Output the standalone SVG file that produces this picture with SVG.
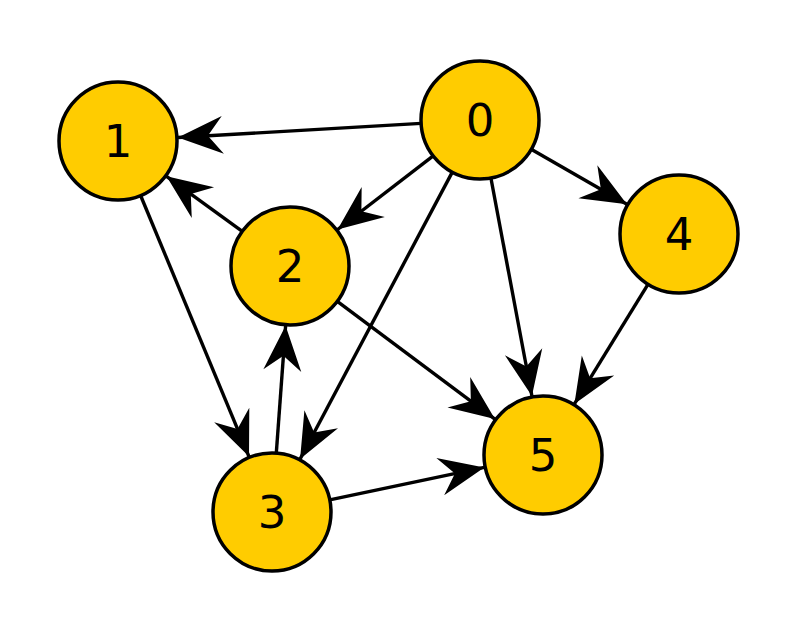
<svg xmlns="http://www.w3.org/2000/svg" width="800" height="631" viewBox="0 0 800 631">
<style>
.node circle{fill:#ffcc00;stroke:#000;stroke-width:3.5}
.node text{font-family:"DejaVu Sans",sans-serif;font-size:45px;text-anchor:middle;fill:#000}
.edges line{stroke:#000;stroke-width:3.4;marker-end:url(#arr)}
</style>
<defs>
<marker id="arr" markerUnits="userSpaceOnUse" viewBox="0 0 46 38" markerWidth="46" markerHeight="38" refX="45" refY="19" orient="auto" overflow="visible">
<path d="M45,19 L0,0 L15,19 L0,38 Z" fill="#000"/>
</marker>
</defs>
<rect width="800" height="631" fill="#fff"/>
<g id="edges" class="edges">
<line x1="421.1" y1="123.4" x2="177.9" y2="137.5"/>
<line x1="433.2" y1="155.9" x2="337.6" y2="229.5"/>
<line x1="452.3" y1="172.1" x2="300.1" y2="459.0"/>
<line x1="531.2" y1="149.3" x2="626.9" y2="204.2"/>
<line x1="490.9" y1="178.0" x2="531.9" y2="396.0"/>
<line x1="242.3" y1="231.3" x2="166.5" y2="176.3"/>
<line x1="140.6" y1="195.5" x2="249.0" y2="456.6"/>
<line x1="276.3" y1="453.2" x2="285.6" y2="325.8"/>
<line x1="337.3" y1="301.3" x2="494.9" y2="419.1"/>
<line x1="329.7" y1="499.9" x2="484.3" y2="467.4"/>
<line x1="648.1" y1="284.2" x2="574.4" y2="403.9"/>
</g>
<g id="node0" class="node"><circle cx="480" cy="120" r="59"/><text x="480" y="135.5">0</text></g>
<g id="node1" class="node"><circle cx="118" cy="141" r="59"/><text x="118" y="156.5">1</text></g>
<g id="node2" class="node"><circle cx="290" cy="266" r="59"/><text x="290" y="281.5">2</text></g>
<g id="node3" class="node"><circle cx="272" cy="512" r="59"/><text x="272" y="527.5">3</text></g>
<g id="node4" class="node"><circle cx="679" cy="234" r="59"/><text x="679" y="249.5">4</text></g>
<g id="node5" class="node"><circle cx="543" cy="455" r="59"/><text x="543" y="470.5">5</text></g>
</svg>
